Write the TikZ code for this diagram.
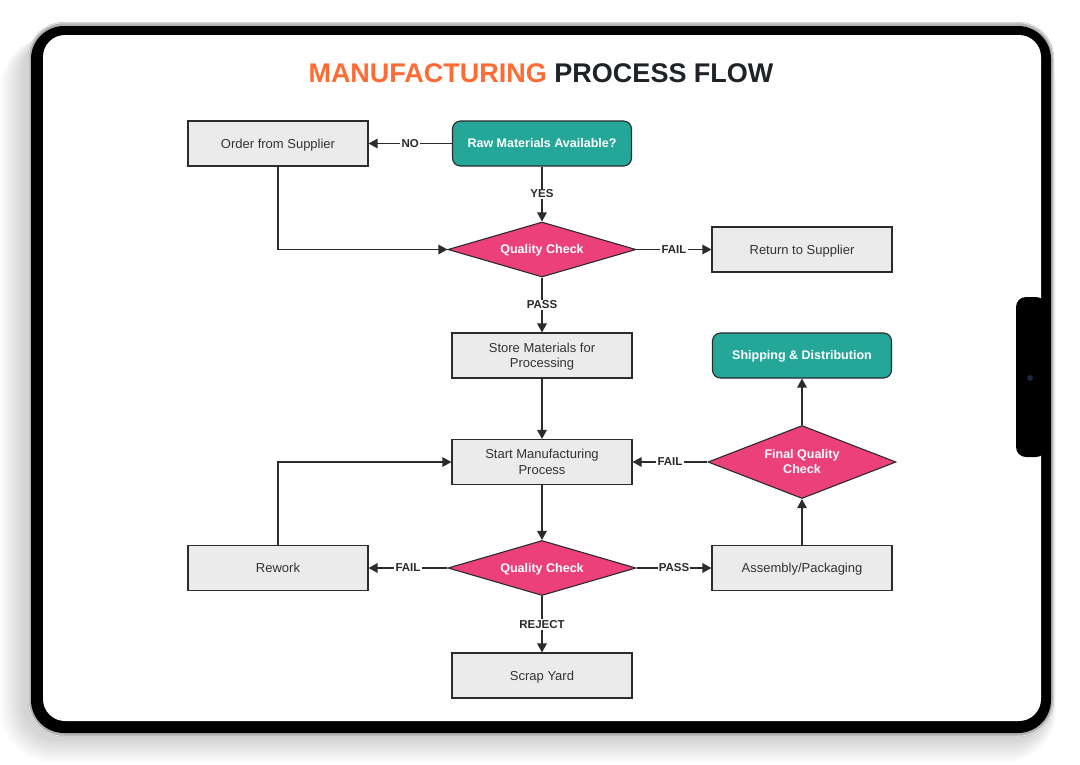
\documentclass[tikz,border=0pt]{standalone}
\usepackage{fontspec}
\setmainfont{Liberation Sans}
\usetikzlibrary{arrows.meta,shapes.geometric}
\definecolor{tealc}{HTML}{24A698}
\definecolor{pinkc}{HTML}{EC407A}
\definecolor{boxfill}{HTML}{EBEBEB}
\definecolor{linec}{HTML}{2B2B2B}
\definecolor{textc}{HTML}{333333}
\definecolor{orangec}{HTML}{FF6B35}
\definecolor{titlec}{HTML}{1F2328}
\definecolor{camc}{HTML}{1C2545}
\begin{document}
\begin{tikzpicture}[x=1pt,y=-1pt,
  box/.style={draw=linec, fill=boxfill, line width=1.1pt, minimum width=180pt, minimum height=45pt,
    text=textc, font=\fontsize{13}{15.5}\selectfont, align=center, inner sep=0pt, text depth=0.2pt},
  term/.style={draw=linec, fill=tealc, rounded corners=8pt, line width=1.1pt, minimum width=179pt,
    minimum height=45pt, text=white, font=\bfseries\fontsize{12.5}{15}\selectfont, inner sep=0pt, text depth=0.2pt},
  dia/.style={diamond, draw=linec, fill=pinkc, line width=1.1pt, text=white, align=center,
    font=\bfseries\fontsize{12.5}{15}\selectfont, aspect=3.4, inner sep=0pt, text depth=0.2pt,
    minimum width=188pt, minimum height=55pt},
  arr/.style={draw=linec, line width=1.3pt, -{Triangle[length=9pt,width=9.5pt]}},
  lbl/.style={fill=white, text=linec, font=\bfseries\fontsize{11.5}{13}\selectfont, inner sep=1.2pt}
]
\useasboundingbox (0,0) rectangle (1080,764);
% shadow
\foreach \i in {1,...,14}{
  \fill[black, opacity=0.012, rounded corners={36+\i*1.2}]
    (28-4-\i*1.7,22+14) rectangle (1054-6+\i*0.6,737+2+\i*1.7);
}
% frame
\fill[gray!60, rounded corners=36pt] (28,22) rectangle (1054,737);
\draw[white!80!gray, line width=0.9pt, rounded corners=35pt] (28.8,22.8) rectangle (1053.2,736.2);
\fill[black, rounded corners=33pt] (31,26) rectangle (1051,733);
\fill[white, rounded corners=22pt] (43,35) rectangle (1041,721);
\fill[black, rounded corners=10pt] (1016,297) rectangle (1046,457);
\fill[camc] (1030,378) circle (3);

% title
\node[font=\bfseries\fontsize{27}{32}\selectfont, text=titlec] (title) at (541,73)
  {\textcolor{orangec}{MANUFACTURING} PROCESS FLOW};

% nodes
\node[box] (order) at (278,143.5) {Order from Supplier};
\node[term] (raw) at (542,143.5) {Raw Materials Available?};
\node[dia] (qc1) at (542,249.5) {Quality Check};
\node[box] (ret) at (802,249.5) {Return to Supplier};
\node[box] (store) at (542,355.5) {Store Materials for\\Processing};
\node[term] (ship) at (802,355.5) {Shipping \& Distribution};
\node[box] (start) at (542,462) {Start Manufacturing\\Process};
\node[dia, aspect=2.6, minimum height=73pt] (final) at (802,462) {Final Quality\\Check};
\node[box] (rework) at (278,568) {Rework};
\node[dia] (qc2) at (542,568) {Quality Check};
\node[box] (asm) at (802,568) {Assembly/Packaging};
\node[box] (scrap) at (542,675.5) {Scrap Yard};

% edges
\draw[arr] (raw) -- node[lbl]{NO} (order);
\draw[arr] (raw) -- node[lbl]{YES} (qc1);
\draw[arr] (order.south) |- (qc1.west);
\draw[arr] (qc1) -- node[lbl]{FAIL} (ret);
\draw[arr] (qc1) -- node[lbl]{PASS} (store);
\draw[arr] (store) -- (start);
\draw[arr] (start) -- (qc2);
\draw[arr] (qc2) -- node[lbl]{FAIL} (rework);
\draw[arr] (rework.north) |- (start.west);
\draw[arr] (qc2) -- node[lbl]{PASS} (asm);
\draw[arr] (qc2) -- node[lbl]{REJECT} (scrap);
\draw[arr] (asm) -- (final);
\draw[arr] (final) -- node[lbl]{FAIL} (start);
\draw[arr] (final) -- (ship);
\end{tikzpicture}
\end{document}
